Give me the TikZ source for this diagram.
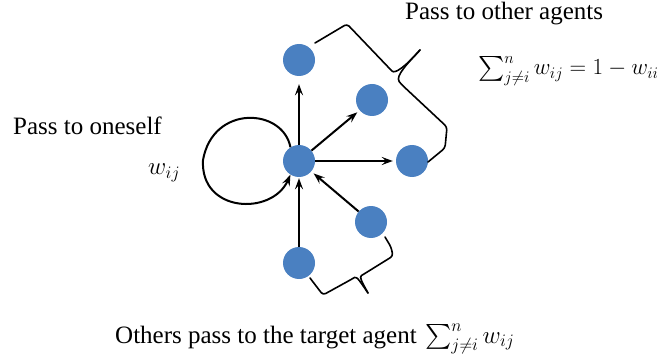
\RequirePackage{fix-cm}
\documentclass[tikz,border=0pt]{standalone}
\usepackage{amsmath}
\usepackage{fontspec}
\setmainfont{Liberation Serif}
\usetikzlibrary{arrows.meta}
\definecolor{agentblue}{RGB}{74,128,193}
\begin{document}
\begin{tikzpicture}[x=1pt,y=-1pt,
  agent/.style={circle,fill=agentblue,minimum size=32pt,inner sep=0pt},
  link/.style={line width=2pt,-{Stealth[length=11pt,width=8pt,inset=4pt]},shorten >=3pt},
  bracel/.style={line width=1.6pt,rounded corners=3pt,line cap=round},
  lbl/.style={anchor=base west,inner sep=0pt,font=\fontsize{25}{29}\selectfont}]
\useasboundingbox (0,0) rectangle (671,358);
\node[agent] (C) at (299,161) {};
\node[agent] (T) at (299,60) {};
\node[agent] (UR) at (372,100) {};
\node[agent] (R) at (412,161) {};
\node[agent] (LR) at (371,222) {};
\node[agent] (B) at (299,263) {};
% arrows
\draw[link,shorten >=8pt] (C) -- (T);
\draw[link] (C) -- (UR);
\draw[link] (C) -- (R);
\draw[link] (LR) -- (C);
\draw[link,shorten >=1pt] (B) -- (C);
\draw[link,shorten >=0pt] (C.122) .. controls (283,108) and (213,104) .. (203,160)
  .. controls (200,213) and (272,216) .. (C.238);
% top brace
\draw[bracel] (315,43) -- (347,24) -- (390,69)
  .. controls (395,74) and (405,67) .. (420,50);
\draw[bracel] (420,50) .. controls (408,63) and (395,76) .. (401,84)
  -- (447,127) -- (445,148) -- (428,162);
% bottom brace
\draw[bracel] (310,278) -- (323,295) -- (352,279)
  .. controls (357,276) and (361,283) .. (368,293);
\draw[bracel] (368,293) .. controls (362,282) and (359,277) .. (364,274)
  -- (393,256) -- (391,247) -- (385,237);
% labels
\node[lbl] (t1) at (405,20) {Pass to other agents};
\node[lbl,font=\fontsize{23}{27}\selectfont] (m1) at (478,75) {$\sum_{j\neq i}^{n} w_{ij} = 1 - w_{ii}$};
\node[lbl] (t2) at (13,135) {Pass to oneself};
\node[lbl] (m2) at (148,175) {$w_{ij}$};
\node[lbl] (t3) at (115,343) {Others pass to the target agent};
\node[lbl] (m3) at (425,343) {$\sum_{j\neq i}^{n} w_{ij}$};
\end{tikzpicture}
\end{document}
